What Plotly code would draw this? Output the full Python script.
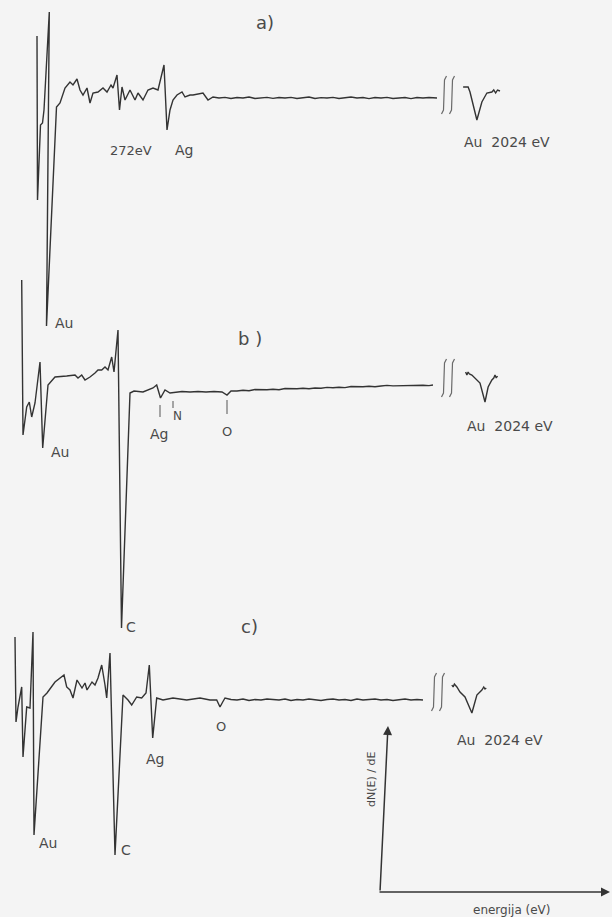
import plotly.graph_objects as go

W, H = 612, 917

# ---------------- data (energy in eV, signal dN/dE in arbitrary units) -------------
# spectrum a) low-energy sweep
a_E = [106, 107, 113, 117, 120, 130.6, 125, 145, 152, 162, 172, 178, 186, 192, 198, 206, 212, 218,
       228, 238, 246, 254, 258, 266, 271, 276, 282, 292, 302, 308, 318, 328, 338, 348, 360, 366,
       372, 378, 386, 396, 402, 412, 418, 428, 438, 448, 458,
       470, 482, 494, 506, 518, 530, 542, 554, 566, 578, 590, 602, 614, 626, 638, 650, 662, 674,
       686, 698, 710, 722, 734, 746, 758, 770, 782, 794, 806, 818, 830, 842, 854, 866, 878, 890, 906]
a_S = [62, -102, -27, -25, -12, 86, -228, -9, -5, 10, 16, 13, 19, 8, 3, 10, -5, 5,
       6, 10, 6, 13, 10, 23, -12, 11, -2, 8, -2, 5, -2, 8, 10, 8, 33, -32,
       -12, -2, 3, 6, 1, 3, 3, 4, 5, -2, 1,
       0, 0.6, -0.5, 0.5, 0, 1, -0.5, 0, 0.6, -0.4, 0.5, 0, 0.6, -0.5, 0, 1, -0.5, 0.4,
       0, 0.6, -0.5, 0, 1, 0, 0.5, -0.6, 0.5, 0, 0.6, -0.5, 0, 0.5, -0.6, 0.5, 0, 0.5, 0]
# spectrum a) Au MNN region
a2_E = [2001, 2009, 2012, 2023, 2031, 2039, 2047, 2050, 2053, 2056, 2060]
a2_S = [11, 11, 6, -22, -4, 5, 6, 8, 5, 8, 7]

# spectrum b)
b_E = [75.4, 78, 85.4, 90.6, 95.4, 102, 112, 117.4, 128, 142, 165.4, 182, 188, 195.4, 202, 212,
       222, 228, 235.4, 242, 248, 255.4, 260, 268, 275, 292, 300, 318, 338, 345.4, 353, 362, 372,
       385.4, 396, 412, 428, 444, 460, 476, 486, 494,
       506, 518, 530, 542, 554, 566, 578, 590, 602, 614, 626, 638, 650, 662, 674, 686, 698, 710,
       722, 734, 746, 758, 770, 782, 794, 806, 818, 830, 842, 854, 866, 878, 890, 898]
b_S = [112, -43, -15, -10, -25, -11, 30, -56, 7, 15, 16, 17, 14, 17, 12, 15,
       19, 22, 22, 25, 22, 35, 20, 62, -236, -1, 1, 0, 4, 7, -6, 2, -1,
       0, 0.5, 0, 0.5, 0, 0.5, 0, -3, 1,
       1, 1.8, 1.2, 2.5, 2, 2.2, 2.8, 2.3, 3.5, 3, 3.2, 3.8, 3.3, 4, 3.8, 4.6, 4.2, 4.8,
       4.4, 5.5, 5, 5.2, 5.8, 5.3, 6, 6.6, 6.1, 6.3, 6.8, 6.3, 7, 6.8, 6.4, 7]
b2_E = [2005, 2007, 2009, 2011, 2015, 2020, 2028, 2036, 2041, 2047, 2050, 2052, 2054, 2056]
b2_S = [20, 17, 20, 18, 17, 14, 9, -10, 5, 12, 14, 17, 14, 16]

# spectrum c)
c_E = [62, 64, 68, 75.4, 78, 85.4, 92, 98, 100, 118, 126, 142, 160, 165.4, 172, 178, 186, 196,
       202, 206, 216, 222, 228, 235.4, 242, 245.4, 252, 262, 278, 288, 295.4, 305.4, 315.4, 324,
       330.6, 337.4, 345.4, 358, 378, 405.4, 432, 452, 465.4, 472, 477.4, 482,
       494, 506, 518, 530, 542, 554, 566, 578, 590, 602, 614, 626, 638, 650, 662, 674, 686,
       698, 710, 722, 734, 746, 758, 770, 782, 794, 806, 818, 830, 842, 854, 866, 878]
c_S = [63, -22, -7, 13, -57, -7, -8, 68, -135, 3, 7, 18, 25, 13, 10, 2, 20, 12,
       17, 10, 18, 15, 22, 35, 15, 2, 47, -155, 5, 0, -5, 3, 2, 7,
       35, -38, 2, 0, 2, 0, 2, 0, 0, -7, -2, 2,
       0.5, 0, 1, -0.5, 0.5, 0, 1, 0.5, 0, 1, -0.5, 0.5, 0, 1, 0.5, -0.5, 0.5,
       1, 0, 0.5, -0.5, 1, 0, 0.5, 1, 0, 0.5, -0.5, 0.5, 1, 0, 0.5, 0]
c2_E = [1983, 1985, 1987, 1991, 1996, 2004, 2015, 2023, 2031, 2034, 2036, 2038]
c2_S = [15, 13, 16, 13, 8, 3, -13, 5, 10, 13, 11, 12]

# vertical stacking of the three recordings (layout)
OFF = {"a": -98, "b": -392, "c": -700}

LINE = "#333333"
TXT = "#4a4a4a"
BG = "#f4f4f4"

fig = go.Figure()


def add(E, S, off, axis):
    fig.add_trace(go.Scatter(x=E, y=[s + off for s in S], mode="lines", xaxis=axis,
                             line=dict(color=LINE, width=1.4), hoverinfo="skip",
                             showlegend=False))


add(a_E, a_S, OFF["a"], "x")
add(a2_E, a2_S, OFF["a"], "x2")
add(b_E, b_S, OFF["b"], "x")
add(b2_E, b2_S, OFF["b"], "x2")
add(c_E, c_S, OFF["c"], "x")
add(c2_E, c2_S, OFF["c"], "x2")


def P(x, y):
    return x / W, 1 - y / H


def label(text, x, y, size=13, angle=0, family="DejaVu Sans", color=TXT):
    px, py = P(x, y)
    fig.add_annotation(x=px, y=py, xref="paper", yref="paper", text=text, showarrow=False,
                       font=dict(family=family, size=size, color=color), textangle=angle,
                       xanchor="center", yanchor="middle")


label("a)", 265, 22, 18)
label("272eV", 131, 150, 13)
label("Ag", 184, 150, 14)
label("Au", 64, 323, 14)
label("Au  2024 eV", 507, 142, 14)

label("b )", 250, 338, 18)
label("Au", 60, 452, 14)
label("Ag", 159, 434, 14)
label("N", 177, 416, 12)
label("O", 227, 432, 13)
label("C", 131, 627, 14)
label("Au  2024 eV", 510, 426, 14)

label("c)", 249, 626, 18)
label("Au", 48, 843, 14)
label("C", 126, 850, 14)
label("Ag", 155, 759, 14)
label("O", 221, 726, 13)
label("Au  2024 eV", 500, 740, 14)


# axis-break marks: two thin elongated integral-like strokes
def break_mark(cx, cy, h=38):
    for dx in (-4, 4):
        x = cx + dx
        pts = [(x + 2.5, cy - h / 2), (x + 0.5, cy - h / 2 + 4), (x, cy),
               (x - 0.5, cy + h / 2 - 4), (x - 2.5, cy + h / 2)]
        path = "M " + " L ".join("%.5f,%.5f" % P(px, py) for px, py in pts)
        fig.add_shape(type="path", xref="paper", yref="paper", path=path,
                      line=dict(color="#6a6a6a", width=1.2))


for bx, by in [(448, 95), (448, 378), (438, 692)]:
    break_mark(bx, by)

# leader ticks in b)
for x0, y0, y1 in [(160, 405, 417), (173, 401, 408), (227, 400, 414)]:
    p0 = P(x0, y0)
    p1 = P(x0, y1)
    fig.add_shape(type="line", xref="paper", yref="paper", x0=p0[0], y0=p0[1], x1=p1[0],
                  y1=p1[1], line=dict(color="#555555", width=1))

# schematic axes
hx, hy = P(610, 892)
fig.add_annotation(x=hx, y=hy, xref="paper", yref="paper", ax=-232, ay=0, text="",
                   showarrow=True, arrowhead=2, arrowsize=1.2, arrowwidth=1.5, arrowcolor=LINE)
vx, vy = P(388, 726)
fig.add_annotation(x=vx, y=vy, xref="paper", yref="paper", ax=-8, ay=166, text="",
                   showarrow=True, arrowhead=2, arrowsize=1.2, arrowwidth=1.5, arrowcolor=LINE)
label("dN(E) / dE", 371, 780, 11, angle=-90)
label("energija (eV)", 512, 910, 12)

fig.update_layout(
    width=W, height=H, margin=dict(l=0, r=0, t=0, b=0),
    paper_bgcolor=BG, plot_bgcolor=BG,
    xaxis=dict(range=[32, 32 + 2 * W], visible=False, domain=[0, 1]),
    xaxis2=dict(range=[1260, 1260 + 1.6 * W], visible=False, overlaying="x", domain=[0, 1]),
    yaxis=dict(range=[-H, 0], visible=False),
)

fig.write_html("out.html", config={"displayModeBar": False},
               post_script="document.body.style.margin='0';")
